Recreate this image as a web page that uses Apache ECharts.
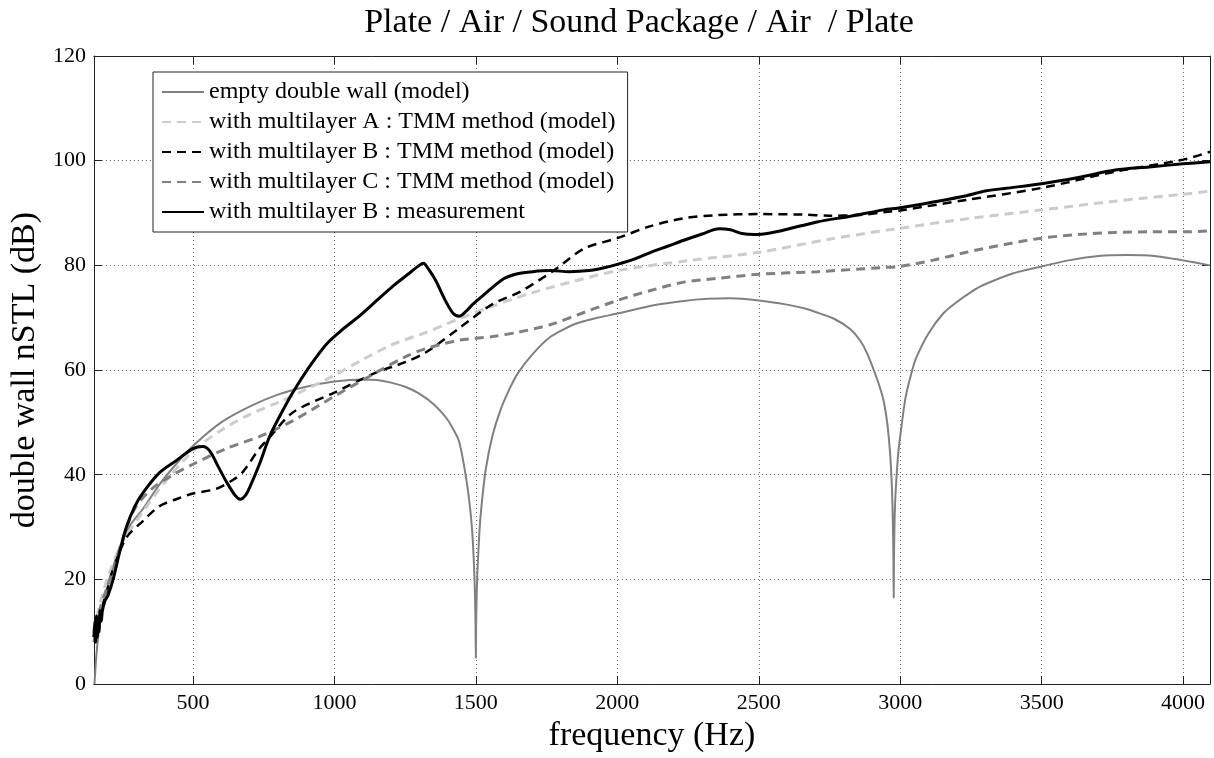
<!DOCTYPE html>
<html><head><meta charset="utf-8">
<script src="https://cdn.jsdelivr.net/npm/echarts@6/dist/echarts.min.js"></script>
<style>html,body{margin:0;padding:0;background:#fff}#c{width:1214px;height:758px}</style>
</head><body><div id="c"></div>
<script>
// ---------- data ----------
const titleText = 'Plate / Air / Sound Package / Air  / Plate';
const xName = 'frequency (Hz)';
const yName = 'double wall nSTL (dB)';
const legendNames = [
  'empty double wall (model)',
  'with multilayer A : TMM method (model)',
  'with multilayer B : TMM method (model)',
  'with multilayer C : TMM method (model)',
  'with multilayer B : measurement'
];

const freqEmpty = [152,158,165,175,190,210,240,280,324,380,440,500,600,700,800,900,1000,1100,1150,1200,1250,1300,1350,1400,1440,1465,1480,1488,1494,1497,1499,1500,1501,1503,1506,1512,1520,1535,1559,1588,1620,1650,1700,1765,1850,1930,2000,2120,2235,2320,2400,2500,2600,2660,2706,2766,2824,2860,2883,2920,2941,2955,2965,2971,2974,2976,2977,2978,2980,2984,2992,2998,3018,3040,3058,3100,3152,3200,3250,3292,3400,3500,3600,3701,3800,3900,3994,4095];
const nstlEmpty = [0,5,9,13,17,21,26,30.5,33.5,38,42,45.5,50,53,55.3,56.8,57.8,58.2,58.1,57.6,56.8,55.5,53.5,50.5,46.5,39.6,33.5,28.5,22,17,11,5,11,17,22,28.5,34,41,47.5,52.5,56.5,59.5,63,66.4,68.8,70,70.8,72.3,73.2,73.6,73.7,73.3,72.5,71.8,71,69.8,67.8,65.5,63.2,58,54.2,49.5,43.5,37,31,24,16.5,24,31,37,43.5,46.5,54.5,59.5,62.5,67,70.8,73,74.9,76.2,78.5,79.8,81,81.8,82,81.8,81,80];

const freqA = [150,170,200,250,324,400,500,600,700,800,900,1000,1100,1206,1324,1441,1559,1700,1850,2000,2250,2500,2750,3000,3250,3500,3750,4000,4095];
const nstlA = [10,15,20.5,27,33,38.5,44.5,48.5,51.5,53.8,56.3,59,62,64.9,67.2,69.8,72.2,74.8,77,79,80.9,82.5,85,87.1,89,90.6,92.2,93.6,94.2];

const freqB = [150,170,200,218,265,324,382,450,500,582,641,676,735,769,853,1000,1147,1250,1324,1441,1559,1658,1775,1882,2000,2118,2235,2353,2500,2650,2750,2850,2950,3000,3234,3500,3760,4000,4095];
const nstlB = [9,13,18.5,22,28,31.2,34,35.5,36.4,37.3,39,40.5,45,47,51.9,55.7,59.5,61.5,63.4,68,72.6,75,79,83.2,85.2,87.5,89,89.6,89.8,89.7,89.5,89.6,90.2,90.5,92.5,94.8,97.9,100.2,101.7];

const freqC = [150,170,200,219,266,300,359,430,500,618,735,853,1000,1147,1250,1324,1441,1559,1647,1765,1882,2000,2118,2235,2353,2500,2706,2941,3000,3117,3234,3370,3500,3630,3760,3880,4000,4095];
const nstlC = [8,14,19,22,30,34,37.5,40,42,45,47.3,50.3,55,59.5,62.5,64.1,65.7,66.4,67.2,68.7,71,73.3,75.2,76.8,77.5,78.3,78.8,79.6,79.8,81,82.5,84,85.2,85.9,86.3,86.4,86.4,86.6];

const freqMeas = [150,153,156,159,162,165,168,172,176,180,190,200,218,240,265,295,324,382,441,500,535,560,590,620,650,668,685,700,735,771,810,853,910,971,1030,1088,1150,1206,1260,1300,1315,1330,1359,1390,1420,1441,1465,1488,1520,1559,1600,1647,1700,1765,1830,1900,1950,2000,2060,2118,2180,2235,2300,2360,2400,2440,2486,2540,2600,2706,2824,2941,3000,3117,3234,3300,3370,3500,3630,3760,3880,4000,4095];
const nstlMeas = [9,12,8,13,9,12,10,14,12,14,16,17,20,25,30,34,36.6,40.4,42.7,45,45.4,44.5,41.5,38.5,36,35.3,36,37.5,42,47.3,51.5,55.7,60.5,64.9,67.8,70.3,73.3,76,78.3,80,80.4,79.5,77,73.5,70.8,70.3,71.2,72.5,74,75.8,77.5,78.4,78.8,79,78.8,79,79.5,80.2,81.2,82.5,83.7,84.8,86,87,86.8,86.1,85.9,86.2,86.9,88.3,89.4,90.6,91,92.1,93.3,94.2,94.7,95.6,96.8,98.2,98.8,99.4,99.8];

// ---------- chart ----------
const serif = '"Liberation Serif", "Times New Roman", serif';
const zip = (xs, ys) => xs.map((x, i) => [x, ys[i]]);
const xMin = 150, xMax = 4095;

const axisLineStyle = { color: '#222', width: 1 };
const chart = echarts.init(document.getElementById('c'), null, { renderer: 'canvas' });
const option = {
  animation: false,
  backgroundColor: '#fff',
  title: {
    text: titleText, left: 634, top: 1, textAlign: 'center',
    textStyle: { fontFamily: serif, fontSize: 34, fontWeight: 'normal', color: '#000' }
  },
  legend: {
    orient: 'vertical', left: 153, top: 72,
    itemWidth: 42, itemHeight: 14, itemGap: 6,
    padding: [8, 12, 8, 8],
    borderColor: '#222', borderWidth: 1, backgroundColor: '#fff',
    itemStyle: { color: 'rgba(0,0,0,0)', borderWidth: 0, opacity: 0 },
    textStyle: { fontFamily: serif, fontSize: 24, color: '#000', lineHeight: 24 },
    data: legendNames
  },
  grid: { left: 87, right: 4, top: 56, bottom: 69, containLabel: false },
  xAxis: [{
    type: 'value', min: xMin, max: xMax, splitNumber: 8, position: 'bottom',
    name: xName, nameLocation: 'middle', nameGap: 29,
    nameTextStyle: { fontFamily: serif, fontSize: 34, color: '#000' },
    axisLine: { show: true, onZero: false, lineStyle: axisLineStyle },
    axisTick: { show: true, inside: true, length: 8, lineStyle: axisLineStyle },
    axisLabel: { fontFamily: serif, fontSize: 22, color: '#000', margin: 8, showMinLabel: false, showMaxLabel: false,
      formatter: v => String(v) },
    splitLine: { show: true, lineStyle: { color: '#666', type: [1, 3], width: 1 } }
  }, {
    type: 'value', min: xMin, max: xMax, splitNumber: 8, position: 'top',
    axisLine: { show: true, onZero: false, lineStyle: axisLineStyle },
    axisTick: { show: true, inside: true, length: 8, lineStyle: axisLineStyle },
    axisLabel: { show: false }, splitLine: { show: false }
  }],
  yAxis: [{
    type: 'value', min: 0, max: 120, interval: 20, position: 'left',
    name: yName, nameLocation: 'middle', nameGap: 33,
    nameTextStyle: { fontFamily: serif, fontSize: 34, color: '#000' },
    axisLine: { show: true, onZero: false, lineStyle: axisLineStyle },
    axisTick: { show: true, inside: true, length: 8, lineStyle: axisLineStyle },
    axisLabel: { fontFamily: serif, fontSize: 22, color: '#000', margin: 8, formatter: v => String(v) },
    splitLine: { show: true, lineStyle: { color: '#666', type: [1, 3], width: 1 } }
  }, {
    type: 'value', min: 0, max: 120, interval: 20, position: 'right',
    axisLine: { show: true, onZero: false, lineStyle: axisLineStyle },
    axisTick: { show: true, inside: true, length: 8, lineStyle: axisLineStyle },
    axisLabel: { show: false }, splitLine: { show: false }
  }],
  series: [
    { name: legendNames[0], type: 'line', symbol: 'none', smooth: 0.2, color: '#808080',
      lineStyle: { color: '#808080', width: 2, type: 'solid' }, data: zip(freqEmpty, nstlEmpty) },
    { name: legendNames[1], type: 'line', symbol: 'none', smooth: 0.3, color: '#cccccc',
      lineStyle: { color: '#cccccc', width: 3, type: [9, 6] }, data: zip(freqA, nstlA) },
    { name: legendNames[2], type: 'line', symbol: 'none', smooth: 0.3, color: '#000000',
      lineStyle: { color: '#000000', width: 2.5, type: [9, 6] }, data: zip(freqB, nstlB) },
    { name: legendNames[3], type: 'line', symbol: 'none', smooth: 0.3, color: '#808080',
      lineStyle: { color: '#808080', width: 3, type: [9, 6] }, data: zip(freqC, nstlC) },
    { name: legendNames[4], type: 'line', symbol: 'none', smooth: 0.3, color: '#000000',
      lineStyle: { color: '#000000', width: 3, type: 'solid' }, data: zip(freqMeas, nstlMeas) }
  ]
};
chart.setOption(option);
</script></body></html>
